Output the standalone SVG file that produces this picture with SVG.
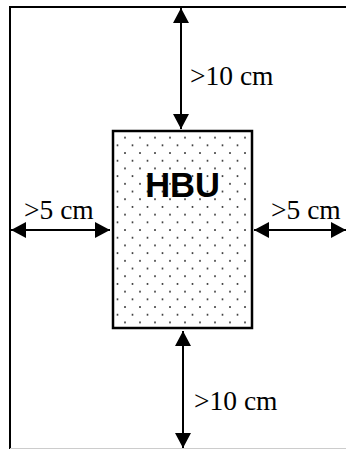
<svg xmlns="http://www.w3.org/2000/svg" width="346" height="449" viewBox="0 0 346 449">
<style>
.frame{stroke:#000;stroke-width:2;fill:none}
.conn{stroke:#000;stroke-width:2;fill:none}
.lbl{font-family:"Liberation Serif","Times New Roman",serif;font-size:27.5px;fill:#000}
.hbu{font-family:"Liberation Sans",Arial,sans-serif;font-weight:bold;font-size:34.5px;fill:#000}
</style>
<defs>
<pattern id="dots" patternUnits="userSpaceOnUse" x="115" y="128" width="15" height="15.4">
<circle cx="2.5" cy="2" r="1" fill="#333"/>
<circle cx="10" cy="9.7" r="1" fill="#333"/>
</pattern>
<marker id="ah" viewBox="0 0 15 16" refX="15" refY="8" markerWidth="15" markerHeight="16" markerUnits="userSpaceOnUse" orient="auto-start-reverse">
<path d="M0,0 L15,8 L0,16 Z" fill="#000"/>
</marker>
</defs>
<g id="frame">
<line x1="10" y1="7" x2="346" y2="7" class="frame"/>
<line x1="10" y1="6" x2="10" y2="449" class="frame"/>
<line x1="10" y1="448.5" x2="346" y2="448.5" stroke="#ccc" stroke-width="1"/>
</g>
<g id="hbu-node">
<rect x="113" y="131" width="139" height="197" fill="url(#dots)" stroke="#000" stroke-width="2.5"/>
<text x="182.5" y="197" text-anchor="middle" class="hbu">HBU</text>
</g>
<g id="connectors">
<line x1="181" y1="8" x2="181" y2="129" class="conn" marker-start="url(#ah)" marker-end="url(#ah)"/>
<line x1="183" y1="331" x2="183" y2="448" class="conn" marker-start="url(#ah)" marker-end="url(#ah)"/>
<line x1="11" y1="230" x2="110" y2="230" class="conn" marker-start="url(#ah)" marker-end="url(#ah)"/>
<line x1="254" y1="230" x2="346" y2="230" class="conn" marker-start="url(#ah)" marker-end="url(#ah)"/>
</g>
<g id="labels">
<text x="190" y="85" class="lbl">&gt;10 cm</text>
<text x="194" y="410" class="lbl">&gt;10 cm</text>
<text x="24" y="219" class="lbl">&gt;5 cm</text>
<text x="271" y="219" class="lbl">&gt;5 cm</text>
</g>
</svg>
